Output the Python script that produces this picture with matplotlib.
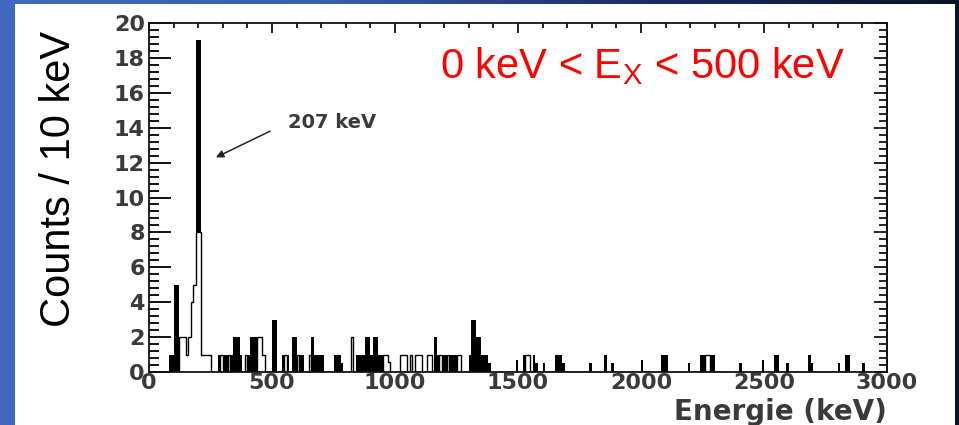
import numpy as np
import matplotlib
matplotlib.use("Agg")
import matplotlib.pyplot as plt
from matplotlib.patches import Rectangle
from matplotlib.ticker import MultipleLocator

# histogram contents, 10 keV bins, keyed by lower bin edge (keV)
fill_bins = [80, 90, 100, 110, 120, 130, 140, 180, 190, 200,
             280, 300, 310, 330, 340, 350, 360, 370, 400, 410, 420, 430,
             500, 510, 540, 560, 580, 590, 610, 620, 660, 670, 680, 690, 700,
             750, 760, 770, 780, 840, 850, 860, 870, 880, 890, 900, 910, 920,
             930, 940, 950, 1160, 1170, 1190, 1200, 1220, 1230, 1240,
             1300, 1310, 1320, 1330, 1340, 1350, 1360, 1370, 1380,
             1490, 1520, 1560, 1570, 1600, 1650, 1660, 1670, 1680, 1790,
             1850, 1880, 2000, 2080, 2090, 2100, 2190, 2240, 2250, 2280,
             2290, 2400, 2490, 2540, 2550, 2590, 2680, 2690, 2800, 2830,
             2840, 2900]
fill_counts = [1, 1, 5, 5, 2, 1, 1, 0.5, 19, 19,
               1, 1, 1, 1, 2, 2, 2, 1, 1, 2, 2, 2,
               3, 3, 1, 1, 2, 2, 1, 1, 2, 1, 1, 1, 1,
               1, 1, 1, 0.5, 1, 1, 1, 1, 2, 2, 1, 2, 2,
               1, 1, 0.5, 2, 1, 1, 1, 1, 1, 1,
               1, 3, 3, 2, 2, 1, 1, 1, 0.5,
               0.7, 1, 1, 0.5, 0.5, 1, 1, 1, 0.5, 0.5,
               1, 0.5, 0.7, 1, 1, 1, 0.5, 1, 1, 1,
               1, 0.5, 0.7, 1, 1, 0.5, 1, 0.5, 0.5, 1,
               1, 0.5]

open_bins = [120, 130, 140, 150, 160, 170, 180, 190, 200, 210, 220, 230, 240,
             290, 320, 390, 440, 450, 460, 550, 600, 650, 820,
             950, 960, 970, 1020, 1030, 1040, 1060, 1080, 1090, 1100,
             1130, 1140, 1180, 1210, 1250, 1260, 1530, 1540, 2260, 2270]
open_counts = [2, 2, 2, 1, 2, 4, 5, 8, 8, 1, 1, 1, 1,
               1, 1, 1, 2, 2, 1, 1, 1, 1, 2,
               1, 1, 0.6, 1, 1, 1, 1, 1, 1, 1,
               1, 1, 1, 1, 1, 1, 1, 1, 1, 1]

bin_width = 10
edges = np.arange(0, 3000 + bin_width, bin_width)


def fill_hist(bins, counts):
    h = np.zeros(len(edges) - 1)
    for b, c in zip(bins, counts):
        h[b // bin_width] = c
    return h


h_fill = fill_hist(fill_bins, fill_counts)
h_open = fill_hist(open_bins, open_counts)

W, H = 959, 425
fig = plt.figure(figsize=(W / 100, H / 100), dpi=100)

# slide background: blue gradient with a white panel on top
bg = fig.add_axes([0, 0, 1, 1], zorder=-10)
grad = np.linspace(0, 1, 256)[None, :]
cmap = matplotlib.colors.LinearSegmentedColormap.from_list(
    "slide", ["#4069c0", "#3a5fb0", "#1a2c66", "#0a1228"])
bg.imshow(grad, aspect="auto", cmap=cmap, extent=[0, 1, 0, 1])
bg.add_patch(Rectangle((15 / W, 0), (955 - 15) / W, (H - 4) / H,
                       facecolor="white", edgecolor="none"))
bg.set_xlim(0, 1)
bg.set_ylim(0, 1)
bg.axis("off")

ax = fig.add_axes([149 / W, (H - 372) / H, (887 - 149) / W, (372 - 23) / H])
ax.patch.set_alpha(0)

ax.stairs(h_fill, edges, fill=True, color="black", baseline=0)
ax.stairs(h_open, edges, fill=True, color="white", baseline=0)
ax.stairs(h_open, edges, color="black", linewidth=1.0, baseline=0)

ax.set_xlim(0, 3000)
ax.set_ylim(0, 20)
for s in ax.spines.values():
    s.set_linewidth(1.3)
    s.set_color("#111111")

label_grey = "#3a3a3a"
ax.xaxis.set_major_locator(MultipleLocator(500))
ax.xaxis.set_minor_locator(MultipleLocator(100))
ax.yaxis.set_major_locator(MultipleLocator(2))
ax.yaxis.set_minor_locator(MultipleLocator(0.4))
ax.tick_params(axis="x", which="both", direction="in", bottom=False, top=True,
               labelbottom=True, width=1.3, colors="#111111",
               labelcolor=label_grey, pad=1)
ax.tick_params(axis="x", which="major", length=7.5)
ax.tick_params(axis="x", which="minor", length=3.8)
ax.tick_params(axis="y", which="both", direction="in", left=True, right=False,
               width=1.4, colors="#111111", labelcolor=label_grey, pad=3)
ax.tick_params(axis="y", which="major", length=15.5)
ax.tick_params(axis="y", which="minor", length=7.5)
for lab in ax.get_xticklabels() + ax.get_yticklabels():
    lab.set_fontfamily("DejaVu Sans")
    lab.set_fontweight("bold")
    lab.set_fontsize(16)

# right-hand ticks are shorter than the left ones
rax = ax.secondary_yaxis("right")
rax.yaxis.set_major_locator(MultipleLocator(2))
rax.yaxis.set_minor_locator(MultipleLocator(0.4))
rax.tick_params(which="both", direction="in", width=1.3, colors="#111111",
                labelright=False)
rax.tick_params(which="major", length=9.5)
rax.tick_params(which="minor", length=5.5)
rax.spines["right"].set_linewidth(1.3)

ax.set_xlabel("Energie (keV)", loc="right", fontsize=20, fontweight="bold",
              family="DejaVu Sans", color=label_grey, labelpad=3)

fig.text(59 / W, (H - 179) / H, "Counts / 10 keV", rotation=90,
         ha="center", va="center", fontsize=30, family="Liberation Sans",
         color="black")

fig.text(440 / W, (H - 78) / H, r"0 keV < E$_\mathregular{X}$ < 500 keV",
         ha="left", va="baseline", fontsize=30, family="Liberation Sans",
         color="#ff0000")

# peak marker
ax.annotate("", xy=(272, 12.3), xytext=(492, 13.8),
            arrowprops=dict(arrowstyle="-|>", color="#222222", lw=1.1,
                            mutation_scale=11, shrinkA=0, shrinkB=0))
ax.text(565, 14.3, "207 keV", ha="left", va="center", fontsize=14,
        fontweight="bold", family="DejaVu Sans", color=label_grey)

fig.savefig("out.png", dpi=100)
